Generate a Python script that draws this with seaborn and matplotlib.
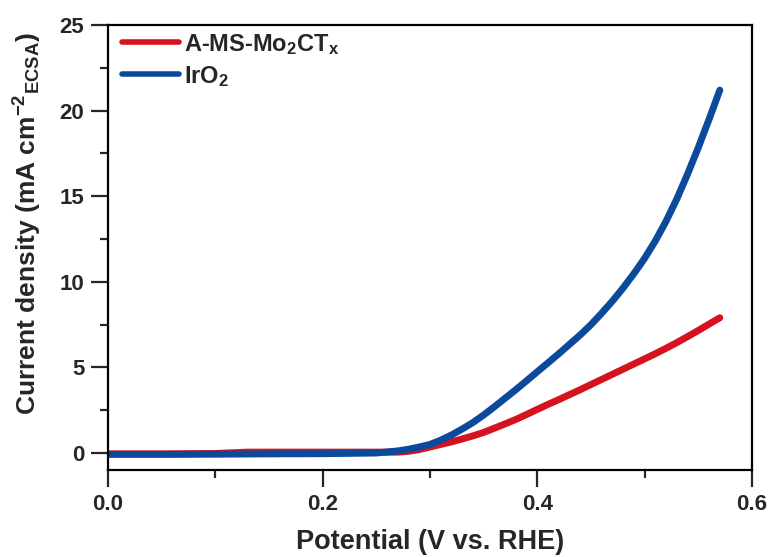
import matplotlib
matplotlib.use("Agg")
import matplotlib.pyplot as plt
from matplotlib.ticker import MultipleLocator, FormatStrFormatter
import pandas as pd
import seaborn as sns

# LSV curves, current density normalised by ECSA
potential_mo2ct = [0.00, 0.05, 0.10, 0.13, 0.20, 0.25, 0.27, 0.28, 0.29, 0.30, 0.31, 0.32,
                   0.33, 0.34, 0.35, 0.36, 0.37, 0.38, 0.39, 0.40, 0.41, 0.42, 0.43, 0.44,
                   0.45, 0.46, 0.47, 0.48, 0.49, 0.50, 0.51, 0.52, 0.53, 0.54, 0.55, 0.56, 0.57]
current_mo2ct = [-0.05, -0.05, -0.03, 0.05, 0.05, 0.05, 0.05, 0.10, 0.20, 0.35, 0.50, 0.65,
                 0.82, 1.00, 1.20, 1.45, 1.70, 1.96, 2.25, 2.55, 2.84, 3.12, 3.41, 3.70,
                 4.00, 4.30, 4.60, 4.90, 5.20, 5.50, 5.80, 6.12, 6.45, 6.80, 7.16, 7.53, 7.90]

potential_iro2 = [0.00, 0.05, 0.10, 0.15, 0.20, 0.25, 0.27, 0.28, 0.29, 0.30, 0.31, 0.32,
                  0.33, 0.34, 0.35, 0.36, 0.37, 0.38, 0.39, 0.40, 0.41, 0.42, 0.43, 0.44,
                  0.45, 0.46, 0.47, 0.48, 0.49, 0.50, 0.51, 0.52, 0.53, 0.54, 0.55, 0.56, 0.57]
current_iro2 = [-0.08, -0.08, -0.07, -0.05, -0.04, 0.00, 0.12, 0.22, 0.35, 0.50, 0.75, 1.05,
                1.40, 1.78, 2.22, 2.70, 3.20, 3.70, 4.22, 4.75, 5.27, 5.80, 6.35, 6.90,
                7.50, 8.17, 8.88, 9.65, 10.48, 11.38, 12.40, 13.55, 14.85, 16.30, 17.85, 19.50, 21.20]

labels = [r"A-MS-Mo$_\mathbf{2}$CT$_\mathbf{x}$", r"IrO$_\mathbf{2}$"]
colors = ["#D6121F", "#0B4A9B"]

df = pd.concat([
    pd.DataFrame({"Potential": potential_mo2ct, "Current": current_mo2ct, "Sample": labels[0]}),
    pd.DataFrame({"Potential": potential_iro2, "Current": current_iro2, "Sample": labels[1]}),
], ignore_index=True)

sns.set_style("ticks")
plt.rcParams["font.family"] = ["Liberation Sans", "DejaVu Sans"]
plt.rcParams["font.weight"] = "bold"
plt.rcParams["mathtext.fontset"] = "custom"
plt.rcParams["mathtext.rm"] = "Liberation Sans:bold"
plt.rcParams["mathtext.bf"] = "Liberation Sans:bold"
plt.rcParams["mathtext.default"] = "bf"

fig = plt.figure(figsize=(7.74, 5.57), dpi=100)
ax = fig.add_axes([0.1395, 0.156, 0.8321, 0.799])

sns.lineplot(data=df, x="Potential", y="Current", hue="Sample",
             palette=dict(zip(labels, colors)), linewidth=5, ax=ax,
             sort=False, estimator=None, solid_capstyle="round",
             solid_joinstyle="round")

ax.set_xlim(0, 0.6)
ax.set_ylim(-1, 25)
ax.xaxis.set_major_locator(MultipleLocator(0.2))
ax.xaxis.set_minor_locator(MultipleLocator(0.1))
ax.yaxis.set_major_locator(MultipleLocator(5))
ax.yaxis.set_minor_locator(MultipleLocator(2.5))
ax.xaxis.set_major_formatter(FormatStrFormatter("%.1f"))
ax.yaxis.set_major_formatter(FormatStrFormatter("%d"))

for s in ax.spines.values():
    s.set_linewidth(1.6)
    s.set_color("black")
ax.tick_params(which="major", length=12, width=1.6, labelsize=16, pad=5)
ax.tick_params(which="minor", length=5.5, width=1.6)
for t in ax.get_xticklabels() + ax.get_yticklabels():
    t.set_fontweight("bold")

ax.set_xlabel("Potential (V vs. RHE)", fontsize=19.5, fontweight="bold", labelpad=10)
ax.set_ylabel(r"Current density (mA cm$^{\mathbf{-2}}$$_{\mathbf{ECSA}}$)",
              fontsize=19, fontweight="bold")
ax.yaxis.set_label_coords(-0.100, 0.553)

leg = ax.legend(loc="upper left", frameon=False, fontsize=17, handlelength=2.4,
                handletextpad=0.2, borderaxespad=0.0, borderpad=0.0, labelspacing=0.3,
                bbox_to_anchor=(0.022, 0.985))
for line in leg.get_lines():
    line.set_linewidth(4)
    line.set_solid_capstyle("round")
for t in leg.get_texts():
    t.set_fontweight("bold")

fig.savefig("out.png", dpi=100)
